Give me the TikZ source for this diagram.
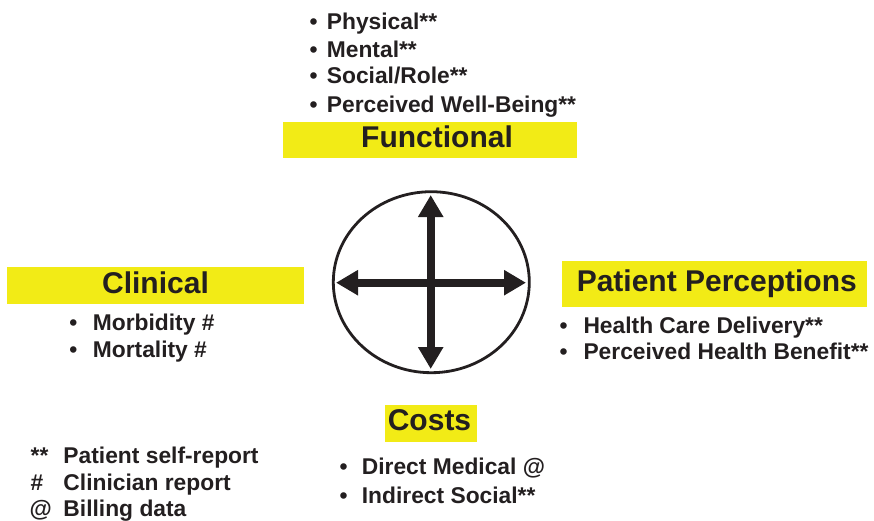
\documentclass[tikz,border=0pt]{standalone}
\usepackage{fontspec}
\setmainfont{Liberation Sans}
\usetikzlibrary{arrows.meta}

\definecolor{hiyellow}{RGB}{242,235,22}
\definecolor{inkgray}{RGB}{35,31,32}

\newcommand{\bitem}[2]{\makebox[#1][l]{•}#2}

\begin{document}
\begin{tikzpicture}[
        x = 1pt, y = -1pt,
        line join=round,
        headbox/.style = {fill=hiyellow, inner sep=0pt, text=inkgray, font=\fontsize{30}{36}\selectfont\bfseries, text height=21pt, text depth=6pt},
        itemtext/.style = {anchor=base west, inner sep=0pt, text=inkgray, font=\fontsize{22.8}{27}\selectfont\bfseries},
        bigarrow/.style = {line width=8.3pt, inkgray, arrows={Triangle[length=22pt, width=24pt]-Triangle[length=22pt, width=24pt]}}
    ]

    \useasboundingbox (0,0) rectangle (874,520);

    % headings
    \node[headbox, minimum width=294pt, minimum height=36pt] (functional) at (430,140) {\hspace*{14pt}Functional};
    \node[headbox, minimum width=297pt, minimum height=37pt] (clinical) at (155.5,285.5) {Clinical};
    \node[headbox, minimum width=305pt, minimum height=46pt] (perceptions) at (714.3,284.2) {\hspace*{5pt}Patient Perceptions};
    \node[headbox, minimum width=92pt, minimum height=37pt] (costs) at (431,423.4) {Costs\hspace*{3pt}};

    % circle with the two arrows
        \coordinate (1) at (430.7,195);
        \coordinate (2) at (430.7,369);
        \coordinate (3) at (336,282.7);
        \coordinate (4) at (526,282.7);

    \draw[line width=2.8pt, inkgray] (431.3,282.2) ellipse [x radius=98, y radius=90.5];
    \draw[bigarrow] (1) -- (2);
    \draw[bigarrow] (3) -- (4);

    % functional
    \node[itemtext] (phys) at (309.4,29.3) {\bitem{17.3pt}{Physical**}};
    \node[itemtext] (ment) at (309.4,57.9) {\bitem{17.3pt}{Mental**}};
    \node[itemtext] (role) at (309.4,83.3) {\bitem{17.3pt}{Social/Role**}};
    \node[itemtext] (well) at (309.4,112) {\bitem{17.3pt}{Perceived Well-Being**}};

    % clinical
    \node[itemtext] (morb) at (69.1,330.3) {\bitem{23.6pt}{Morbidity \#}};
    \node[itemtext] (mort) at (69.1,357.5) {\bitem{23.6pt}{Mortality \#}};

    % patient perceptions
    \node[itemtext] (care) at (559.4,333.3) {\bitem{23.9pt}{Health Care Delivery**}};
    \node[itemtext] (bene) at (559.4,359.6) {\bitem{23.9pt}{Perceived Health Benefit**}};

    % costs
    \node[itemtext] (direct) at (339.4,474) {\bitem{22.3pt}{Direct Medical @}};
    \node[itemtext] (indirect) at (339.4,503.8) {\bitem{22.3pt}{Indirect Social**}};

    % legend
    \node[itemtext] (self) at (30.5,463.3) {\makebox[32.8pt][l]{**}Patient self-report};
    \node[itemtext] (clin) at (30.5,490.7) {\makebox[32.8pt][l]{\#}Clinician report};
    \node[itemtext] (bill) at (29.5,516) {\makebox[33.8pt][l]{@}Billing data};

\end{tikzpicture}
\end{document}
